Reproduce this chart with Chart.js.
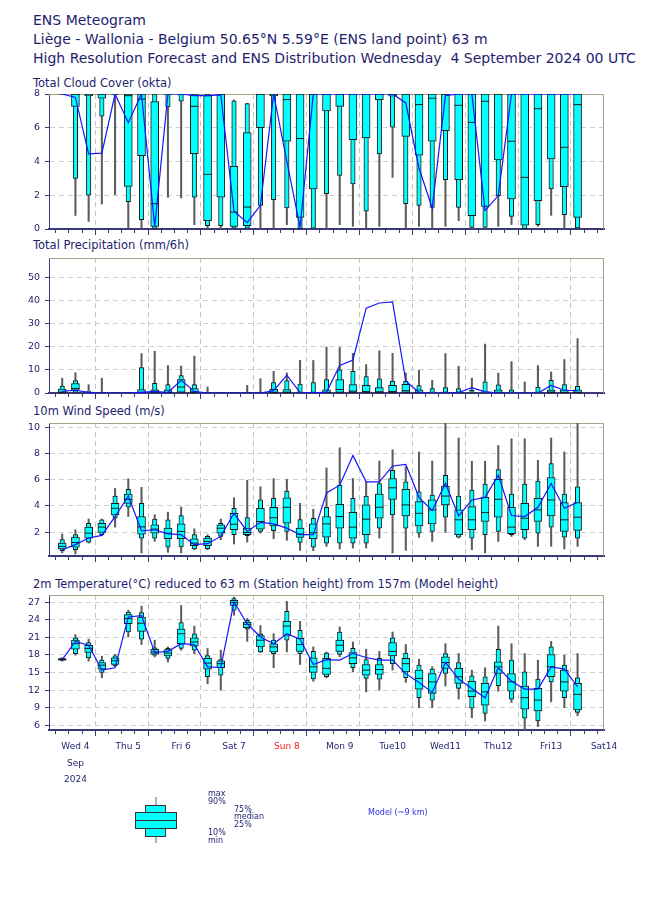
<!DOCTYPE html>
<html>
<head>
<meta charset="utf-8">
<script src="https://cdn.jsdelivr.net/npm/chart.js@4.4.1/dist/chart.umd.min.js"></script>
<style>
  body { margin: 0; width: 650px; height: 916px; position: relative; overflow: hidden; background: #fff;
         font-family: "DejaVu Sans", sans-serif; color: #1e1e6e; }
  .title { position: absolute; left: 33px; font-size: 14px; line-height: 19px; white-space: pre; }
  .ptitle { position: absolute; left: 33px; font-size: 11.5px; line-height: 14px; white-space: pre; }
  .panel { position: absolute; left: 0; width: 650px; }
  .k { position: absolute; }
  .kt { position: absolute; font-size: 8px; line-height: 9px; white-space: pre; }
</style>
</head>
<body>

<div class="title" style="top:11px">ENS Meteogram</div>
<div class="title" style="top:30px">Liège - Wallonia - Belgium 50.65°N 5.59°E (ENS land point) 63 m</div>
<div class="title" style="top:49px">High Resolution Forecast and ENS Distribution Wednesday  4 September 2024 00 UTC</div>

<div class="ptitle" style="top:76px">Total Cloud Cover (okta)</div>
<div class="ptitle" style="top:238px">Total Precipitation (mm/6h)</div>
<div class="ptitle" style="top:404px">10m Wind Speed (m/s)</div>
<div class="ptitle" style="top:577px">2m Temperature(°C) reduced to 63 m (Station height) from 157m (Model height)</div>

<div class="panel" style="top:82px;height:157px"><canvas id="cloud-chart"></canvas></div>
<div class="panel" style="top:246px;height:157px"><canvas id="precip-chart"></canvas></div>
<div class="panel" style="top:413px;height:153px"><canvas id="wind-chart"></canvas></div>
<div class="panel" style="top:586px;height:204px"><canvas id="temp-chart"></canvas></div>

<!-- key -->
<div class="k" style="left:155px;top:797px;width:1.5px;height:46px;background:#b4b4b4"></div>
<div class="k" style="left:145px;top:805px;width:19px;height:30px;background:#00ffff;border:1px solid #333"></div>
<div class="k" style="left:135px;top:812px;width:40px;height:15px;background:#00ffff;border:1px solid #333"></div>
<div class="k" style="left:135px;top:820px;width:42px;height:1px;background:#333"></div>
<div class="kt" style="left:208px;top:789px">max</div>
<div class="kt" style="left:208px;top:797px">90%</div>
<div class="kt" style="left:234px;top:805px">75%</div>
<div class="kt" style="left:234px;top:812px">median</div>
<div class="kt" style="left:234px;top:820px">25%</div>
<div class="kt" style="left:208px;top:828px">10%</div>
<div class="kt" style="left:208px;top:836px">min</div>
<div class="kt" style="left:368px;top:808px;color:#3030e8">Model (~9 km)</div>

<script>
/* ============================================================
   ENS meteogram - box plots per 6h step + HRES line
   ============================================================ */

// forecast steps, hours after Wed 4 Sep 00 UTC
const steps = [6, 12, 18, 24, 30, 36, 42, 48, 54, 60, 66, 72, 78, 84, 90, 96, 102, 108, 114, 120,
               126, 132, 138, 144, 150, 156, 162, 168, 174, 180, 186, 192, 198, 204, 210, 216, 222, 228, 234, 240];

const dayHours = [12, 36, 60, 84, 108, 132, 156, 180, 204, 228, 252];
const dayNames = [['Wed 4', 'Sep', '2024'], 'Thu 5', 'Fri 6', 'Sat 7', 'Sun 8', 'Mon 9', 'Tue10', 'Wed11', 'Thu12', 'Fri13', 'Sat14'];
const sundayHour = 108;

// ---- Total cloud cover (okta) ----
const cloudMin = [8, 0.8, 0.45, 1.48, 2.04, 0, 0, 0, 1.88, 1.84, 0.26, 0, 0, 0, 0, 0, 0, 0.26, 0, 0,
                  0, 0.26, 0.16, 0.06, 0.16, 3.06, 0, 0.16, 0, 0.16, 0.49, 0, 0, 0.16, 0.26, 0, 0.16, 0.81, 0.06, 0];
const cloudP10 = [8, 3.0, 2.0, 6.68, 7.95, 1.62, 0.55, 0, 7.23, 7.57, 1.88, 0.2, 0.2, 0.05, 0.05, 1.4, 1.74, 1.25, 0.02, 0.05,
                  2.1, 3.18, 2.67, 1.05, 4.45, 6.03, 1.5, 1.4, 1.28, 2.92, 1.28, 0.1, 0.1, 1.98, 0.75, 0.02, 0.26, 2.37, 0.85, 0.06];
const cloudP25 = [8, 7.27, 7.9, 7.75, 8, 2.53, 4.35, 0.15, 7.95, 7.95, 4.47, 0.49, 1.88, 0.15, 0.2, 6.0, 7.9, 5.2, 0.69, 2.37,
                  7.0, 7.27, 5.3, 5.4, 7.67, 7.87, 5.49, 4.37, 5.2, 5.83, 2.92, 0.79, 1.34, 4.09, 1.78, 0.22, 1.68, 4.15, 2.51, 0.69];
const cloudMed = [8, 8, 8, 8, 8, 7.9, 7.7, 1.5, 8, 8, 7.27, 3.24, 8, 1.0, 1.3, 8, 8, 7.67, 5.36, 8,
                  8, 8, 8, 8, 8, 8, 8, 7.37, 7.75, 8, 7.33, 6.32, 7.57, 8, 5.2, 3.06, 7.13, 8, 4.84, 7.37];
const cloudP75 = [8, 8, 8, 8, 8, 8, 8, 7.55, 8, 8, 8, 7.9, 8, 3.72, 5.71, 8, 8, 8, 8, 8,
                  8, 8, 8, 8, 8, 8, 8, 8, 8, 8, 8, 8, 8, 8, 8, 8, 8, 8, 8, 8];
const cloudP90 = [8, 8, 8, 8, 8, 8, 8, 8, 8, 8, 8, 8, 8, 7.6, 7.43, 8, 8, 8, 8, 8,
                  8, 8, 8, 8, 8, 8, 8, 8, 8, 8, 8, 8, 8, 8, 8, 8, 8, 8, 8, 8];
const cloudMax = [8, 8, 8, 8, 8, 8, 8, 8, 8, 8, 8, 8, 8, 7.65, 7.45, 8, 8, 8, 8, 8,
                  8, 8, 8, 8, 8, 8, 8, 8, 8, 8, 8, 8, 8, 8, 8, 8, 8, 8, 8, 8];
const cloudHres = [8, 7.8, 4.45, 4.5, 8, 6.3, 8, 0.15, 8, 8, 7.9, 7.9, 7.95, 1.05, 0.38, 1.4, 8, 4.0, 0.1, 8,
                   8, 8, 8, 8, 8, 8, 7.47, 3.6, 1.25, 7.9, 8, 8, 1.09, 1.98, 8, 8, 8, 8, 8, 8];

// ---- Total precipitation (mm/6h) ----
const precMin = [0, 0, 0, 0, 0, 0, 0, 0, 0, 0, 0, 0, 0, 0, 0, 0, 0, 0, 0, 0,
                 0, 0, 0, 0, 0, 0, 0, 0, 0, 0, 0, 0, 0, 0, 0, 0, 0, 0, 0, 0];
const precP10 = [0, 0, 0, 0, 0, 0, 0, 0, 0, 0, 0, 0, 0, 0, 0, 0, 0, 0, 0, 0,
                 0, 0, 0, 0, 0, 0, 0, 0, 0, 0, 0, 0, 0, 0, 0, 0, 0, 0, 0, 0];
const precP25 = [0, 1.2, 0, 0, 0, 0, 0, 0, 0, 0.4, 0, 0, 0, 0, 0, 0, 0, 0, 0, 0,
                 0, 0.3, 0, 0, 0, 0, 0.3, 0, 0, 0, 0, 0, 0, 0, 0, 0, 0, 0, 0, 0];
const precMed = [0.3, 2.0, 0, 0, 0, 0, 0.2, 0.3, 0.2, 2.6, 0.4, 0, 0, 0, 0, 0, 0.2, 0.3, 0, 0,
                 0.2, 1.5, 0.8, 0.6, 0.5, 0.6, 1.0, 0.2, 0, 0, 0, 0, 0, 0.2, 0, 0, 0, 0.3, 0.2, 0.2];
const precP75 = [1.7, 4.1, 0.3, 0, 0, 0, 1.45, 1.4, 1.4, 5.8, 1.9, 0, 0, 0, 0, 0, 1.6, 1.5, 0.4, 0,
                 1.4, 5.8, 3.6, 3.3, 2.3, 3.3, 3.8, 1.4, 0.3, 0.4, 0.4, 0.2, 0.5, 1.4, 0.3, 0, 0.2, 1.3, 1.4, 1.4];
const precP90 = [3.0, 5.4, 0.7, 0, 0, 0, 11.0, 4.2, 3.6, 7.5, 3.6, 0, 0, 0, 0, 0.4, 4.5, 5.4, 3.9, 4.5,
                 5.8, 10.0, 9.4, 7.1, 6.1, 5.2, 5.1, 3.2, 1.9, 2.3, 1.9, 1.2, 4.8, 3.5, 1.4, 0.3, 2.6, 5.5, 3.6, 2.9];
const precMax = [6.4, 8.8, 3.6, 6.4, 0, 0, 17.1, 18.1, 11.9, 11.7, 16.0, 2.6, 0, 0, 3.3, 6.2, 9.4, 8.7, 14.2, 14.1,
                 19.9, 19.7, 17.2, 12.3, 18.3, 17.2, 8.7, 9.9, 5.5, 17.1, 11.6, 6.4, 21.2, 8.6, 13.6, 4.8, 11.9, 9.1, 14.5, 23.6];
const precHres = [0.7, 1.2, 0.3, 0, 0, 0, 0.3, 0.7, 0.2, 5.5, 0.7, 0, 0, 0, 0, 0, 1.0, 7.7, 0.2, 0.1,
                  0.4, 11.9, 14.3, 36.8, 39.0, 39.5, 5.2, 0.2, 0, 0, 0.2, 2.3, 0.5, 0.1, 0, 0, 0, 3.3, 1.2, 1.0];

// ---- 10m wind speed (m/s) ----
const windMin = [0.41, 0.33, 1.16, 1.72, 2.38, 3.19, 0.41, 1.29, 0.46, 0.41, 0.66, 0.66, 1.42, 1.09, 1.24, 1.92, 1.49, 1.37, 0.6, 0.58,
                 0.91, 0.71, 0.78, 0.78, 1.54, 0.41, 0.6, 1.6, 1.29, 1.97, 1.54, 0.66, 0.41, 1.29, 1.67, 1.42, 0.91, 0.91, 0.71, 0.91];
const windP10 = [0.58, 0.66, 1.22, 1.8, 3.06, 3.9, 1.54, 1.54, 0.84, 0.86, 0.71, 0.73, 1.67, 1.8, 1.72, 2.05, 2.1, 2.05, 1.2, 0.84,
                 1.16, 1.16, 1.16, 1.16, 2.3, 3.32, 2.3, 1.92, 2.05, 3.14, 1.62, 1.54, 1.8, 2.05, 1.8, 1.54, 1.92, 2.38, 1.62, 1.54];
const windP25 = [0.71, 0.84, 1.54, 1.97, 3.32, 4.2, 1.85, 1.92, 1.49, 1.49, 0.96, 0.96, 1.92, 2.18, 1.8, 2.23, 2.48, 2.68, 1.6, 1.49,
                 1.62, 2.3, 1.54, 1.8, 3.06, 4.5, 3.24, 2.48, 2.63, 4.08, 1.8, 2.18, 2.81, 3.14, 1.87, 2.18, 2.81, 3.24, 2.05, 2.13];
const windMed = [0.91, 1.2, 1.92, 2.38, 3.82, 4.5, 2.4, 2.23, 1.92, 2.05, 1.16, 1.29, 2.3, 2.6, 1.97, 2.81, 3.1, 3.9, 1.85, 1.95,
                 2.63, 3.19, 2.38, 2.99, 3.9, 5.39, 4.08, 3.44, 3.7, 4.76, 2.94, 2.94, 3.49, 4.51, 2.38, 3.06, 3.7, 4.46, 2.94, 3.14];
const windP75 = [1.16, 1.62, 2.38, 2.68, 4.2, 4.91, 3.19, 2.56, 2.3, 2.63, 1.49, 1.54, 2.56, 3.44, 2.3, 3.82, 3.9, 4.63, 2.3, 2.63,
                 3.19, 4.13, 3.52, 4.08, 4.91, 6.1, 5.27, 4.33, 4.46, 5.52, 3.7, 3.95, 4.66, 6.03, 3.9, 4.2, 4.58, 6.18, 4.25, 4.25];
const windP90 = [1.42, 1.8, 2.68, 2.94, 4.76, 5.27, 4.2, 2.99, 2.94, 3.27, 1.8, 1.67, 2.68, 3.82, 3.11, 4.46, 4.58, 5.14, 2.95, 3.06,
                 3.9, 5.59, 4.58, 4.76, 5.72, 6.73, 5.85, 5.09, 4.84, 6.35, 4.76, 5.22, 5.67, 6.78, 4.91, 5.67, 5.9, 7.24, 4.91, 5.47];
const windMax = [1.85, 2.18, 3.01, 3.0, 5.34, 6.08, 5.42, 3.32, 3.52, 3.92, 2.25, 1.8, 3.0, 4.63, 5.97, 5.47, 6.1, 6.03, 4.2, 3.75,
                 6.91, 8.46, 6.1, 5.85, 7.44, 8.3, 7.0, 8.13, 7.44, 10.4, 9.2, 7.42, 7.42, 8.63, 9.14, 9.14, 7.49, 9.2, 8.13, 10.4];
const windHres = [0.65, 1.04, 1.55, 1.75, 3.19, 4.76, 2.1, 2.18, 1.87, 1.8, 1.04, 1.11, 1.67, 3.44, 2.05, 2.75, 2.63, 2.3, 1.8, 1.8,
                  5.0, 5.59, 7.87, 5.85, 5.85, 7.06, 7.19, 4.66, 3.65, 5.72, 3.24, 4.46, 4.66, 6.35, 3.27, 3.19, 3.9, 5.72, 3.82, 4.28];

// ---- 2m temperature (°C) ----
const tempMin = [16.95, 17.94, 16.93, 14.1, 15.96, 21.06, 19.76, 17.66, 16.8, 18.8, 18.2, 13.1, 12.0, 24.74, 20.3, 18.4, 15.8, 18.5, 16.36, 13.5,
                 14.1, 17.66, 15.1, 11.7, 12.0, 15.4, 13.3, 9.0, 9.0, 12.7, 10.47, 7.3, 6.74, 11.8, 9.9, 4.9, 5.78, 10.0, 9.0, 7.64];
const tempP10 = [17.04, 18.2, 17.5, 15.0, 16.13, 21.9, 20.66, 17.94, 17.4, 19.1, 18.8, 14.3, 14.55, 25.6, 22.36, 18.5, 18.2, 20.5, 18.2, 13.9,
                 14.3, 18.06, 15.8, 14.0, 13.87, 16.5, 14.1, 10.7, 10.3, 14.83, 12.28, 8.9, 8.04, 12.74, 10.47, 7.2, 6.74, 13.4, 10.7, 8.2];
const tempP25 = [17.1, 18.96, 18.4, 15.57, 16.36, 23.3, 22.0, 18.1, 17.83, 19.9, 19.5, 15.57, 15.8, 26.43, 22.64, 19.36, 18.5, 21.3, 18.6, 15.0,
                 14.66, 18.6, 16.5, 14.55, 14.66, 17.83, 15.1, 12.17, 11.44, 15.7, 13.13, 10.87, 9.45, 14.83, 11.83, 8.77, 8.44, 14.27, 11.83, 8.6];
const tempMed = [17.2, 19.9, 19.1, 16.25, 17.0, 24.2, 23.4, 18.5, 18.3, 21.6, 20.2, 16.6, 16.5, 26.9, 23.2, 20.5, 19.36, 22.9, 19.76, 15.96,
                 15.7, 19.64, 17.5, 15.4, 15.5, 18.6, 16.5, 14.0, 13.4, 16.7, 14.27, 11.83, 11.7, 15.96, 13.4, 10.7, 10.3, 15.96, 13.4, 11.27];
const tempP75 = [17.35, 20.5, 19.64, 16.7, 17.5, 24.85, 24.45, 18.96, 18.9, 22.4, 20.9, 17.4, 17.0, 27.3, 23.6, 21.3, 19.9, 23.7, 20.8, 17.5,
                 17.4, 20.5, 18.4, 16.36, 16.36, 20.1, 17.4, 15.4, 14.83, 17.66, 15.7, 13.5, 13.13, 16.8, 14.83, 12.7, 12.28, 18.06, 15.4, 13.13];
const tempP90 = [17.45, 20.9, 20.1, 17.1, 17.83, 25.3, 25.2, 19.2, 19.1, 23.5, 21.6, 17.9, 17.2, 27.57, 23.9, 21.6, 20.5, 25.4, 22.2, 18.6,
                 18.3, 21.9, 19.1, 17.2, 17.4, 20.9, 18.3, 16.25, 15.57, 18.23, 16.7, 14.44, 14.27, 18.96, 17.1, 15.1, 13.87, 19.36, 16.25, 14.1];
const tempMax = [17.5, 21.45, 20.66, 17.78, 18.06, 25.6, 26.3, 20.5, 19.36, 26.4, 22.9, 19.08, 18.8, 27.85, 24.2, 23.0, 21.6, 27.1, 23.7, 19.36,
                 18.5, 22.76, 20.2, 18.96, 18.6, 21.9, 19.76, 17.27, 16.0, 19.9, 18.23, 15.4, 15.8, 22.9, 19.9, 18.23, 17.1, 20.3, 17.94, 18.23];
const tempHres = [17.2, 20.3, 19.64, 15.4, 15.8, 24.45, 24.7, 18.4, 18.6, 19.9, 19.76, 15.96, 15.85, 27.0, 23.3, 21.06, 19.9, 21.6, 20.66, 16.36,
                  17.2, 17.1, 18.23, 17.55, 17.1, 17.1, 14.8, 13.3, 11.6, 16.7, 13.87, 12.28, 10.7, 15.8, 13.5, 12.17, 12.17, 15.96, 15.57, 12.57];

const NAVY = '#1e1e6e';
const AXIS = '#3a3a78';
const GRID = '#cfcfcf';
const FRAME = '#a8a08a';
const CYAN = '#00ffff';
const EDGE = '#1a1a1a';
const HRES = '#1414ff';
const NONE = 'rgba(0,0,0,0)';

Chart.defaults.font.family = '"DejaVu Sans", sans-serif';
Chart.defaults.color = NAVY;

// tan frame along top and right of the plot area
const framePlugin = {
  id: 'frame',
  beforeDatasetsDraw(chart) {
    const { ctx, chartArea: a } = chart;
    ctx.save();
    ctx.strokeStyle = FRAME;
    ctx.lineWidth = 1;
    ctx.beginPath();
    ctx.moveTo(a.left, a.top + 0.5);
    ctx.lineTo(a.right - 0.5, a.top + 0.5);
    ctx.lineTo(a.right - 0.5, a.bottom);
    ctx.stroke();
    ctx.restore();
  },
};

function boxDatasets(s) {
  const span = (lo, hi) => steps.map((x, i) => ({ x, y: [lo[i], hi[i]] }));
  const pts = a => steps.map((x, i) => ({ x, y: a[i] }));
  return [
    { type: 'bar', data: span(s.min, s.max), barThickness: 1.4, backgroundColor: '#5c5c5c', order: 4 },
    { type: 'bar', data: span(s.p10, s.p90), barThickness: 4.5, backgroundColor: CYAN, borderColor: EDGE,
      borderWidth: 1, borderSkipped: false, order: 3 },
    { type: 'bar', data: span(s.p25, s.p75), barThickness: 8, backgroundColor: CYAN, borderColor: EDGE,
      borderWidth: 1, borderSkipped: false, order: 2 },
    { type: 'line', data: pts(s.med), showLine: false, pointStyle: 'line', pointRadius: 4,
      pointBorderColor: EDGE, pointBorderWidth: 1, order: 1 },
    { type: 'line', data: pts(s.hres), borderColor: HRES, borderWidth: 1.2, pointRadius: 0, tension: 0, order: 0 },
  ];
}

function renderPanel(id, series, y, opts) {
  const xh = opts.labels ? 60 : 10;
  return new Chart(document.getElementById(id).getContext('2d'), {
    type: 'bar',
    data: { datasets: boxDatasets(series) },
    plugins: [framePlugin],
    options: {
      responsive: true,
      maintainAspectRatio: false,
      animation: false,
      events: [],
      layout: { padding: { top: opts.padTop, right: 46, left: 0, bottom: 0 } },
      datasets: { bar: { grouped: false } },
      plugins: { legend: { display: false }, tooltip: { enabled: false } },
      scales: {
        x: {
          type: 'linear', min: 0, max: 252, offset: false,
          afterFit: sc => { sc.height = xh; },
          afterBuildTicks: sc => {
            sc.ticks = [];
            for (let h = 0; h <= 252; h += 6) sc.ticks.push({ value: h });
          },
          ticks: {
            display: !!opts.labels, autoSkip: false, maxRotation: 0, minRotation: 0, padding: 3,
            font: { size: 9, lineHeight: 1.8 },
            color: c => (c.tick && c.tick.value === sundayHour) ? '#ff1a1a' : NAVY,
            callback: v => { const k = dayHours.indexOf(v); return k >= 0 ? dayNames[k] : ''; },
          },
          grid: {
            color: c => (c.tick && c.tick.value % 24 === 0 && c.tick.value > 0) ? '#c4c4c4' : NONE,
            tickColor: AXIS, tickLength: 6, lineWidth: 1,
            // minor 6-hourly ticks drawn shorter than the daily ones
            tickBorderDash: c => (c.tick && c.tick.value % 24 === 0) ? [] : [3, 20],
          },
          border: { color: AXIS, width: 2, dash: [5, 4] },
        },
        y: {
          min: y.min, max: y.max,
          afterFit: sc => { sc.width = 49; sc.paddingTop = 0; sc.paddingBottom = 0; },
          ticks: { stepSize: y.step, includeBounds: false, padding: 5, font: { size: 9.5 }, color: NAVY },
          grid: {
            color: c => (c.tick && c.tick.value > y.min && c.tick.value < y.max) ? GRID : NONE,
            tickColor: AXIS, tickLength: 4, lineWidth: 1,
          },
          border: { color: AXIS, width: 1, dash: [5, 4] },
        },
      },
    },
  });
}

renderPanel('cloud-chart',
  { min: cloudMin, p10: cloudP10, p25: cloudP25, med: cloudMed, p75: cloudP75, p90: cloudP90, max: cloudMax, hres: cloudHres },
  { min: 0, max: 8, step: 2 }, { padTop: 12 });

renderPanel('precip-chart',
  { min: precMin, p10: precP10, p25: precP25, med: precMed, p75: precP75, p90: precP90, max: precMax, hres: precHres },
  { min: 0, max: 58.5, step: 10 }, { padTop: 12 });

renderPanel('wind-chart',
  { min: windMin, p10: windP10, p25: windP25, med: windMed, p75: windP75, p90: windP90, max: windMax, hres: windHres },
  { min: 0.17, max: 10.35, step: 2 }, { padTop: 10 });

renderPanel('temp-chart',
  { min: tempMin, p10: tempP10, p25: tempP25, med: tempMed, p75: tempP75, p90: tempP90, max: tempMax, hres: tempHres },
  { min: 5.2, max: 28.2, step: 3 }, { padTop: 9, labels: true });
</script>
</body>
</html>
